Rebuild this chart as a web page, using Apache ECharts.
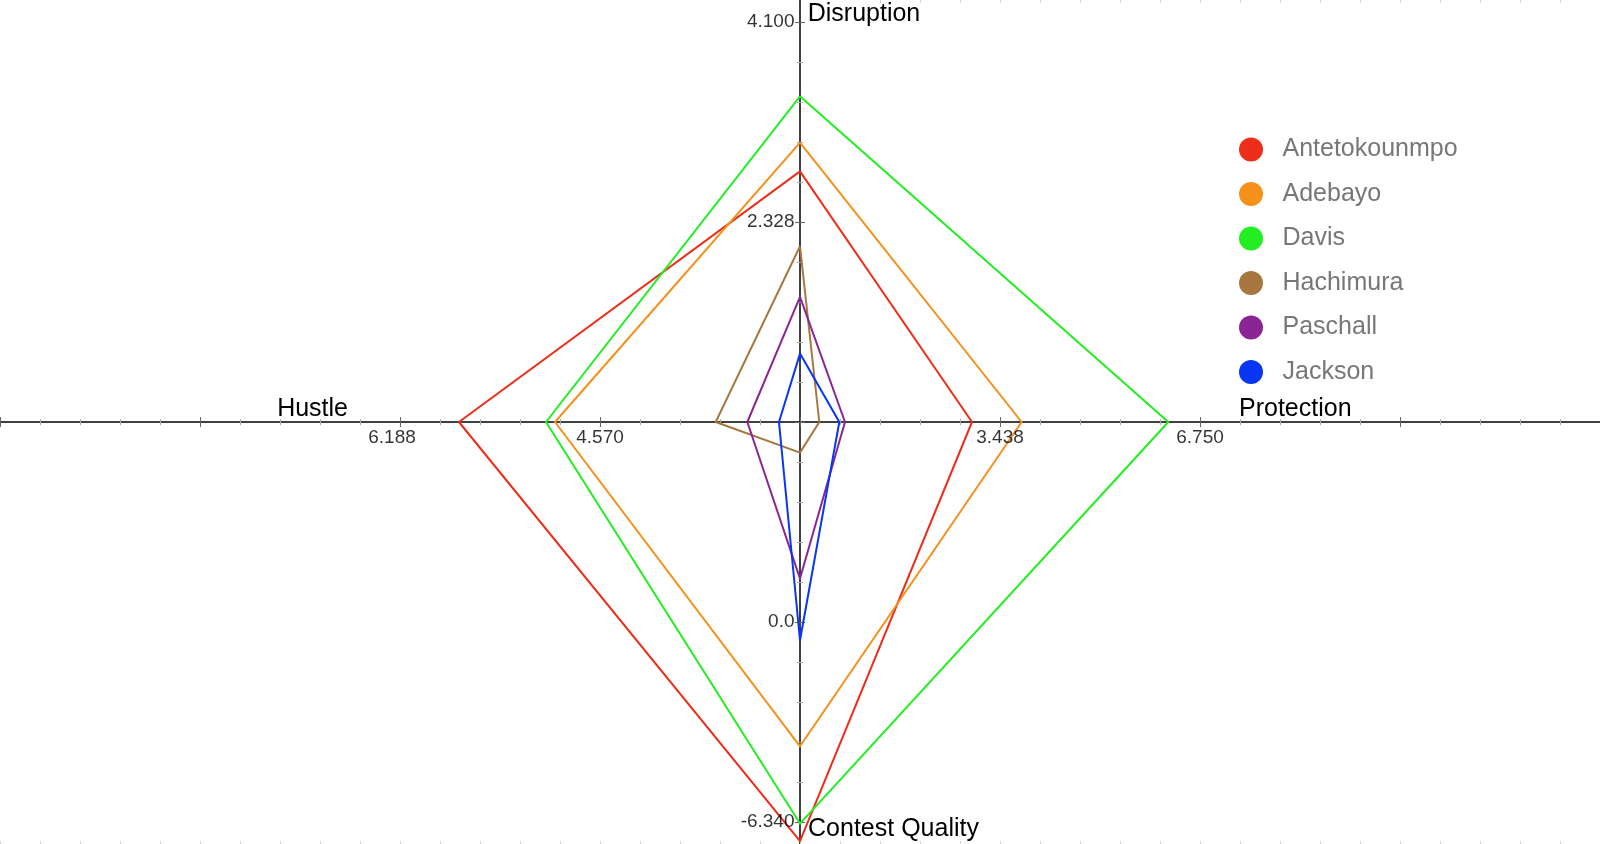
<!DOCTYPE html>
<html><head><meta charset="utf-8">
<script src="https://cdn.jsdelivr.net/npm/echarts@6/dist/echarts.min.js"></script>
<style>html,body{margin:0;padding:0;background:#fff}#c{width:1600px;height:844px}</style>
</head><body><div id="c"></div>
<script>
// ---- data ----
const indicatorNames = ['Disruption', 'Hustle', 'Contest Quality', 'Protection'];
// tick labels per axis: [half radius, full radius]
const disruptionTicks = ['2.328', '4.100'];
const hustleTicks = ['4.570', '6.188'];
const contestTicks = ['0.0', '-6.340'];
const protectionTicks = ['3.438', '6.750'];

const players = ['Antetokounmpo', 'Adebayo', 'Davis', 'Hachimura', 'Paschall', 'Jackson'];
const playerColors = ['#EC2E1A', '#F5901A', '#22EE22', '#A8773F', '#8B2594', '#0A35F5'];

// values in order: Disruption, Hustle, Contest Quality, Protection
const antetokounmpo = [2.777, 5.711, -6.95, 2.974];
const adebayo = [3.032, 4.934, -3.94, 3.797];
const davis = [3.442, 5.007, -6.39, 6.225];
const hachimura = [2.113, 3.634, 5.37, 0.446];
const paschall = [1.664, 3.378, 1.376, 0.871];
const jackson = [1.162, 3.122, -0.58, 0.777];

// ---- build ----
const FONT = '"Liberation Sans", Arial, sans-serif';
const axisTicks = [disruptionTicks, hustleTicks, contestTicks, protectionTicks];
const sign = axisTicks.map(t => (parseFloat(t[1]) >= parseFloat(t[0]) ? 1 : -1));
const indicator = indicatorNames.map((n, i) => {
  const mid = parseFloat(axisTicks[i][0]), outer = parseFloat(axisTicks[i][1]);
  const center = 2 * mid - outer;
  return { name: n, min: sign[i] * center, max: sign[i] * outer };
});
const allValues = [antetokounmpo, adebayo, davis, hachimura, paschall, jackson];
const seriesData = allValues.map((arr, k) => ({
  name: players[k],
  value: arr.map((v, i) => v * sign[i]),
  lineStyle: { color: playerColors[k], width: 2 },
  itemStyle: { color: playerColors[k] }
}));
const nameKeys = ['d', 'h', 'c', 'p'];

// backdrop cross: radar radius = R units of the cartesian backdrop scale
const R = 10;
const xTickLabels = [
  { value: [-R, 0], name: hustleTicks[1], label: { offset: [-8, 0] } },
  { value: [-R / 2, 0], name: hustleTicks[0] },
  { value: [R / 2, 0], name: protectionTicks[0] },
  { value: [R, 0], name: protectionTicks[1] }
];
const yTickLabels = [
  { value: [0, R], name: disruptionTicks[1] },
  { value: [0, R / 2], name: disruptionTicks[0] },
  { value: [0, -R / 2], name: contestTicks[0] },
  { value: [0, -R], name: contestTicks[1] }
];

const hiddenLine = { show: true, onZero: true, lineStyle: { opacity: 0 } };
const noLabel = { show: false };
const noSplit = { show: false };
const tickLabelStyle = { show: true, color: '#000', fontSize: 19, fontFamily: FONT, formatter: '{b}' };

const chart = echarts.init(document.getElementById('c'), null, { renderer: 'canvas' });
chart.setOption({
  animation: false,
  backgroundColor: '#ffffff',
  grid: [
    { left: 0, right: 0, top: 0, bottom: 0, outerBoundsMode: 'none' },
    { left: 0, right: 0, top: 0, bottom: 0, outerBoundsMode: 'none' },
    { left: 0, right: 0, top: 22, height: 800, outerBoundsMode: 'none' },
    { left: 0, right: 0, top: 22, height: 800, outerBoundsMode: 'none' },
    { left: 880, right: 0, top: 0, height: 10, outerBoundsMode: 'none' },
    { left: 0, right: 0, bottom: 0, height: 10, outerBoundsMode: 'none' }
  ],
  xAxis: [
    { gridIndex: 0, type: 'value', min: -2 * R, max: 2 * R, interval: R / 2,
      axisLine: { show: true, onZero: true, lineStyle: { color: '#000', width: 1.5 } },
      axisTick: { show: true, inside: false, length: 5, lineStyle: { color: '#666' } },
      minorTick: { show: true, splitNumber: 5, length: 3, lineStyle: { color: '#aaa' } },
      axisLabel: noLabel, splitLine: noSplit, minorSplitLine: noSplit },
    { gridIndex: 1, type: 'value', min: -2 * R, max: 2 * R, interval: R / 2,
      axisLine: hiddenLine,
      axisTick: { show: true, inside: true, length: 5, lineStyle: { color: '#666' } },
      minorTick: { show: true, splitNumber: 5, length: 3, lineStyle: { color: '#aaa' } },
      axisLabel: noLabel, splitLine: noSplit },
    { gridIndex: 2, type: 'value', min: -1, max: 1, axisLine: hiddenLine, axisTick: { show: false }, axisLabel: noLabel, splitLine: noSplit },
    { gridIndex: 3, type: 'value', min: -1, max: 1, axisLine: hiddenLine, axisTick: { show: false }, axisLabel: noLabel, splitLine: noSplit },
    { gridIndex: 4, type: 'value', position: 'top', min: 2, max: 20, interval: 1,
      axisLine: { show: false, onZero: false },
      axisTick: { show: true, inside: true, length: 3, lineStyle: { color: '#d4d4d4' } },
      axisLabel: noLabel, splitLine: noSplit },
    { gridIndex: 5, type: 'value', position: 'bottom', min: -20, max: 20, interval: 1,
      axisLine: { show: false, onZero: false },
      axisTick: { show: true, inside: true, length: 3, lineStyle: { color: '#d4d4d4' } },
      axisLabel: noLabel, splitLine: noSplit }
  ],
  yAxis: [
    { gridIndex: 0, type: 'value', min: -1, max: 1,
      axisLine: { show: true, onZero: true, lineStyle: { color: '#000', width: 1.5 } },
      axisTick: { show: false }, axisLabel: noLabel, splitLine: noSplit },
    { gridIndex: 1, type: 'value', min: -1, max: 1, axisLine: hiddenLine, axisTick: { show: false }, axisLabel: noLabel, splitLine: noSplit },
    { gridIndex: 2, type: 'value', min: -R, max: R, interval: R / 2,
      axisLine: hiddenLine,
      axisTick: { show: true, inside: false, length: 5, lineStyle: { color: '#666' } },
      minorTick: { show: true, splitNumber: 5, length: 3, lineStyle: { color: '#aaa' } },
      axisLabel: noLabel, splitLine: noSplit, minorSplitLine: noSplit },
    { gridIndex: 3, type: 'value', min: -R, max: R, interval: R / 2,
      axisLine: hiddenLine,
      axisTick: { show: true, inside: true, length: 5, lineStyle: { color: '#666' } },
      minorTick: { show: true, splitNumber: 5, length: 3, lineStyle: { color: '#aaa' } },
      axisLabel: noLabel, splitLine: noSplit },
    { gridIndex: 4, type: 'value', min: 0, max: 1, show: false },
    { gridIndex: 5, type: 'value', min: 0, max: 1, show: false }
  ],
  legend: {
    orient: 'vertical', left: 1234, top: 132,
    itemWidth: 53, itemHeight: 24, itemGap: 19.5, icon: 'circle',
    textStyle: { color: '#777', fontSize: 25, fontFamily: FONT, lineHeight: 24 },
    data: players
  },
  radar: {
    center: [800, 422], radius: 400, startAngle: 90, shape: 'polygon',
    splitNumber: 2, nameGap: 0,
    indicator: indicator,
    axisLine: { show: false }, axisTick: { show: false }, axisLabel: { show: false },
    splitLine: { show: false }, splitArea: { show: false },
    axisName: {
      color: '#000', fontSize: 25, fontFamily: FONT,
      formatter: function (name) {
        const k = nameKeys[indicatorNames.indexOf(name)];
        return '{' + k + '|' + name + '}';
      },
      rich: {
        d: { color: '#000', fontSize: 25, fontFamily: FONT, lineHeight: 16, padding: [0, 0, 0, 128] },
        h: { color: '#000', fontSize: 25, fontFamily: FONT, lineHeight: 24, padding: [0, 52, 26, 0] },
        c: { color: '#000', fontSize: 25, fontFamily: FONT, lineHeight: 14, padding: [0, 0, 0, 187] },
        p: { color: '#000', fontSize: 25, fontFamily: FONT, lineHeight: 24, padding: [0, 0, 26, 39] }
      }
    }
  },
  series: [
    { type: 'radar', symbol: 'none', z: 3, lineStyle: { width: 2 }, data: seriesData },
    { type: 'scatter', xAxisIndex: 0, yAxisIndex: 0, z: 4, symbolSize: 1, silent: true,
      itemStyle: { color: 'rgba(0,0,0,0)' },
      label: Object.assign({ position: 'bottom', distance: 6 }, tickLabelStyle),
      data: xTickLabels },
    { type: 'scatter', xAxisIndex: 2, yAxisIndex: 2, z: 4, symbolSize: 1, silent: true,
      itemStyle: { color: 'rgba(0,0,0,0)' },
      label: Object.assign({ position: 'left', distance: 5 }, tickLabelStyle),
      data: yTickLabels }
  ]
});
</script>
</body></html>
